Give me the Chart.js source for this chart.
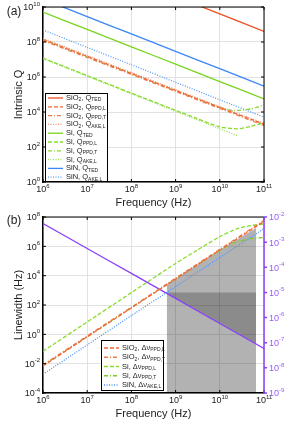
<!DOCTYPE html>
<html>
<head>
<meta charset="utf-8">
<script src="https://cdn.jsdelivr.net/npm/chart.js@4.4.1/dist/chart.umd.min.js"></script>
<style>
  body { margin: 0; background: #fff; width: 299px; height: 427px; overflow: hidden; }
  #wa { position: absolute; left: 0; top: 0; width: 299px; height: 208px; }
  #wb { position: absolute; left: 0; top: 208px; width: 299px; height: 219px; }
</style>
</head>
<body>
<div id="wa"><canvas id="qChart"></canvas></div>
<div id="wb"><canvas id="lwChart"></canvas></div>
<script>
// ejes
const freqDecades = [1e6, 1e7, 1e8, 1e9, 1e10, 1e11];
const qTicks = [1e0, 1e2, 1e4, 1e6, 1e8, 1e10];
const lwTicks = [1e-4, 1e-2, 1e0, 1e2, 1e4, 1e6, 1e8];
const ratioTicks = [1e-9, 1e-8, 1e-7, 1e-6, 1e-5, 1e-4, 1e-3, 1e-2];

// (a) Q intrinseco
const qSiO2TED  = [4e13, 4e12, 4e11, 4e10, 4e9, 4e8];
const qSiO2PPDL = [1.4e8, 1.5e7, 1.6e6, 1.7e5, 1.8e4, 2.0e3];
const qSiO2PPDT = [1.2e8, 1.3e7, 1.4e6, 1.5e5, 1.6e4, 1.7e3];
const qSiO2AKEL = [1.6e8, 1.7e7, 1.8e6, 1.9e5, 2.0e4, 2.2e3];
const qSiTED    = [5.1e9, 5.2e8, 5.3e7, 5.4e6, 5.5e5, 5.6e4];
const siPPDLFreq = [1e6, 1e7, 1e8, 1e9, 3e9, 1e10, 2.5e10, 5e10, 1e11];
const qSiPPDL    = [1.2e7, 1.2e6, 1.2e5, 1.25e4, 4.3e3, 1.4e3, 1.1e3, 1.5e3, 2.4e3];
const siPPDTFreq = [1e6, 1e7, 1e8, 1e9, 1e10, 2e10, 5e10, 1e11];
const qSiPPDT    = [1.3e8, 1.4e7, 1.5e6, 1.6e5, 1.9e4, 1.2e4, 1.5e4, 2.5e4];
const siAKELFreq = [1e6, 1e7, 1e8, 1e9, 1e10, 2.5e10];
const qSiAKEL    = [1.1e7, 1.1e6, 1.1e5, 1.1e4, 1.1e3, 4.4e2];
const qSiNTED   = [2.8e10, 2.8e9, 2.9e8, 2.9e7, 3.0e6, 3.0e5];
const qSiNAKEL  = [4.9e8, 4.9e7, 5.0e6, 5.0e5, 5.0e4, 5.1e3];

// (b) ancho de linea
const lwSiO2PPDL = [7.0e-3, 6.7e-1, 63, 5.9e3, 5.6e5, 5.0e7];
const lwSiO2PPDT = [8.3e-3, 7.7e-1, 71, 6.7e3, 6.3e5, 5.9e7];
const lwSiPPDL   = [7e-2, 7, 7e2, 6.8e4, 5.2e5, 4.6e6, 1.6e7, 2.6e7, 3.4e7];
const lwSiPPDT   = [7.7e-3, 7.1e-1, 67, 6.2e3, 5.3e5, 1.7e6, 3.3e6, 4.0e6];
const lwSiNAKEL  = [1.9e-3, 1.9e-1, 19, 1.8e3, 1.7e5, 1.6e7];
const ratio      = [5.5e-3, 5.6e-4, 5.7e-5, 5.8e-6, 5.8e-7, 5.9e-8];
const bandFreq = [6.3e8, 1e9, 1e10, 6.6e10];
const bandTop  = [2.6e3, 6.2e3, 5.8e5, 1.8e7];
const darkFreq  = [6.3e8, 6.6e10];
const darkLevel = [1e-5, 1e-5];

// leyendas: [texto, subindice?]
const qLabels = [
  [["SiO",0],["2",1],[", Q",0],["TED",1]],
  [["SiO",0],["2",1],[", Q",0],["PPD,L",1]],
  [["SiO",0],["2",1],[", Q",0],["PPD,T",1]],
  [["SiO",0],["2",1],[", Q",0],["AKE,L",1]],
  [["Si, Q",0],["TED",1]],
  [["Si, Q",0],["PPD,L",1]],
  [["Si, Q",0],["PPD,T",1]],
  [["Si, Q",0],["AKE,L",1]],
  [["SiN, Q",0],["TED",1]],
  [["SiN, Q",0],["AKE,L",1]]
];
const lwLabels = [
  [["SiO",0],["2",1],[", \u0394\u03bd",0],["PPD,L",1]],
  [["SiO",0],["2",1],[", \u0394\u03bd",0],["PPD,T",1]],
  [["Si, \u0394\u03bd",0],["PPD,L",1]],
  [["Si, \u0394\u03bd",0],["PPD,T",1]],
  [["SiN, \u0394\u03bd",0],["AKE,L",1]]
];

const FONT = '"Liberation Sans", Arial, sans-serif';
const DASH = [4, 2], DASHDOT = [4, 2, 1, 2], DOT = [1, 1.5];
const PURPLE = "#8a3ffc";

function pts(xs, ys) { return xs.map((x, i) => ({ x: x, y: ys[i] })); }
function line(xs, ys, color, dash, axis) {
  return { data: pts(xs, ys), borderColor: color, borderDash: dash, borderWidth: 1.3,
           pointRadius: 0, fill: false, tension: 0.2, yAxisID: axis || "y" };
}

function powLabel(ctx, x, y, exp, align, color) {
  ctx.fillStyle = color;
  ctx.textAlign = "left"; ctx.textBaseline = "middle";
  ctx.font = "9px " + FONT; const bw = ctx.measureText("10").width;
  ctx.font = "6px " + FONT; const ew = ctx.measureText(exp).width;
  const w = bw + ew;
  const x0 = align === "center" ? x - w / 2 : align === "right" ? x - w : x;
  ctx.font = "9px " + FONT; ctx.fillText("10", x0, y);
  ctx.font = "6px " + FONT; ctx.fillText(exp, x0 + bw, y - 4);
}

function richText(ctx, parts, x, y) {
  parts.forEach(p => {
    ctx.font = (p[1] ? "5px " : "7.5px ") + FONT;
    ctx.fillText(p[0], x, p[1] ? y + 2 : y);
    x += ctx.measureText(p[0]).width;
  });
}

// ejes, etiquetas y leyenda dibujados a mano
const decor = {
  id: "decor",
  afterDraw(chart, args, o) {
    const ctx = chart.ctx, a = chart.chartArea;
    const xs = chart.scales.x, ys = chart.scales.y, y1 = chart.scales.y1;
    ctx.save();
    ctx.strokeStyle = "#000"; ctx.lineWidth = 1;
    ctx.beginPath();
    ctx.moveTo(a.left, a.top); ctx.lineTo(a.right, a.top);
    if (!y1) ctx.lineTo(a.right, a.bottom);
    freqDecades.forEach(v => {
      const px = xs.getPixelForValue(v);
      ctx.moveTo(px, a.bottom); ctx.lineTo(px, a.bottom - 3);
      ctx.moveTo(px, a.top); ctx.lineTo(px, a.top + 3);
    });
    o.yTicks.forEach(v => {
      const py = ys.getPixelForValue(v);
      ctx.moveTo(a.left, py); ctx.lineTo(a.left + 3, py);
      if (!y1) { ctx.moveTo(a.right, py); ctx.lineTo(a.right - 3, py); }
    });
    ctx.stroke();

    freqDecades.forEach(v => powLabel(ctx, xs.getPixelForValue(v), a.bottom + 8, String(Math.round(Math.log10(v))), "center", "#222"));
    o.yTicks.forEach(v => powLabel(ctx, a.left - 3, ys.getPixelForValue(v) + 1, String(Math.round(Math.log10(v))), "right", "#222"));

    if (y1) {
      ctx.strokeStyle = PURPLE; ctx.lineWidth = 1.5;
      ctx.beginPath();
      ctx.moveTo(a.right, a.top); ctx.lineTo(a.right, a.bottom);
      ratioTicks.forEach(v => {
        const py = y1.getPixelForValue(v);
        ctx.moveTo(a.right, py); ctx.lineTo(a.right + 3, py);
      });
      ctx.stroke();
      ratioTicks.forEach(v => powLabel(ctx, a.right + 5, y1.getPixelForValue(v) + 1, String(Math.round(Math.log10(v))), "left", "#9b5cf6"));
    }

    ctx.fillStyle = "#222";
    ctx.font = "11px " + FONT; ctx.textAlign = "center"; ctx.textBaseline = "middle";
    ctx.fillText("Frequency (Hz)", (a.left + a.right) / 2, a.bottom + 21);
    ctx.save();
    ctx.translate(19, (a.top + a.bottom) / 2); ctx.rotate(-Math.PI / 2);
    ctx.fillText(o.yTitle, 0, 0);
    ctx.restore();
    ctx.font = "12px " + FONT;
    ctx.fillText(o.letter, 14, o.letterY);

    // leyenda
    const L = o.legend;
    ctx.fillStyle = "#fff"; ctx.fillRect(L.x, L.y, L.w, L.h);
    ctx.strokeStyle = "#000"; ctx.lineWidth = 1; ctx.setLineDash([]);
    ctx.strokeRect(L.x + 0.5, L.y + 0.5, L.w, L.h);
    L.labels.forEach((parts, i) => {
      const ds = chart.data.datasets[i];
      const ry = L.y + L.first + i * L.step;
      ctx.strokeStyle = ds.borderColor; ctx.lineWidth = 1.3; ctx.setLineDash(ds.borderDash || []);
      ctx.beginPath(); ctx.moveTo(L.x + 3, ry); ctx.lineTo(L.x + 18, ry); ctx.stroke();
      ctx.setLineDash([]);
      ctx.fillStyle = "#222"; ctx.textAlign = "left"; ctx.textBaseline = "middle";
      richText(ctx, parts, L.x + 21, ry);
    });
    ctx.restore();
  }
};

function logAxis(min, max, ticks, fitKey, fitVal, extra) {
  return Object.assign({
    type: "logarithmic", min: min, max: max,
    ticks: { display: false },
    grid: { color: "#e2e2e2", lineWidth: 1, drawTicks: false },
    border: { display: true, color: "#000", width: 1.5 },
    afterBuildTicks: s => { s.ticks = ticks.map(v => ({ value: v })); },
    afterFit: s => { s[fitKey] = fitVal; }
  }, extra || {});
}

// panel (a)
new Chart(document.getElementById("qChart"), {
  type: "line",
  data: {
    datasets: [
      line(freqDecades, qSiO2TED, "#ef4f1f", []),
      line(freqDecades, qSiO2PPDL, "#f0683a", DASH),
      line(freqDecades, qSiO2PPDT, "#f27a50", DASHDOT),
      line(freqDecades, qSiO2AKEL, "#f49070", DOT),
      line(freqDecades, qSiTED, "#78d41e", []),
      line(siPPDLFreq, qSiPPDL, "#86dc2c", DASH),
      line(siPPDTFreq, qSiPPDT, "#8bd63a", DASHDOT),
      line(siAKELFreq, qSiAKEL, "#9ade55", DOT),
      line(freqDecades, qSiNTED, "#3a87f5", []),
      line(freqDecades, qSiNAKEL, "#5b9cf5", DOT)
    ]
  },
  options: {
    responsive: true, maintainAspectRatio: false, animation: false, devicePixelRatio: 1,
    layout: { padding: { left: 0, right: 35, top: 7, bottom: 0 } },
    scales: {
      x: logAxis(1e6, 1e11, freqDecades, "height", 26),
      y: logAxis(1, 1e10, qTicks, "width", 43)
    },
    plugins: {
      legend: { display: false }, tooltip: { enabled: false },
      decor: { yTicks: qTicks, yTitle: "Intrinsic Q", letter: "(a)", letterY: 12,
               legend: { x: 45, y: 93, w: 62, h: 88, first: 5, step: 8.8, labels: qLabels } }
    }
  },
  plugins: [decor]
});

// panel (b)
const fillBand = { data: pts(bandFreq, bandTop), borderColor: "rgba(0,0,0,0)", borderWidth: 0, pointRadius: 0,
                   fill: "start", backgroundColor: "rgba(0,0,0,0.3)", yAxisID: "y" };
const fillDark = { data: pts(darkFreq, darkLevel), borderColor: "rgba(0,0,0,0)", borderWidth: 0, pointRadius: 0,
                   fill: { target: 5 }, backgroundColor: "rgba(0,0,0,0.22)", yAxisID: "y1" };

new Chart(document.getElementById("lwChart"), {
  type: "line",
  data: {
    datasets: [
      line(freqDecades, lwSiO2PPDL, "#f0683a", DASH),
      line(freqDecades, lwSiO2PPDT, "#f07a4c", DASHDOT),
      line(siPPDLFreq, lwSiPPDL, "#86dc2c", DASH),
      line(siPPDTFreq, lwSiPPDT, "#7cc920", DASHDOT),
      line(freqDecades, lwSiNAKEL, "#4d93f7", DOT),
      line(freqDecades, ratio, PURPLE, [], "y1"),
      fillDark,
      fillBand
    ]
  },
  options: {
    responsive: true, maintainAspectRatio: false, animation: false, devicePixelRatio: 1,
    layout: { padding: { left: 0, right: 0, top: 9, bottom: 0 } },
    scales: {
      x: logAxis(1e6, 1e11, freqDecades, "height", 34),
      y: logAxis(1e-4, 1e8, lwTicks, "width", 43),
      y1: logAxis(1e-9, 1e-2, ratioTicks, "width", 35,
        { position: "right", grid: { drawOnChartArea: false, drawTicks: false }, border: { display: false } })
    },
    plugins: {
      legend: { display: false }, tooltip: { enabled: false },
      filler: { propagate: false },
      decor: { yTicks: lwTicks, yTitle: "Linewidth (Hz)", letter: "(b)", letterY: 13,
               legend: { x: 101, y: 132, w: 62, h: 50, first: 8, step: 9.25, labels: lwLabels } }
    }
  },
  plugins: [decor]
});
</script>
</body>
</html>
